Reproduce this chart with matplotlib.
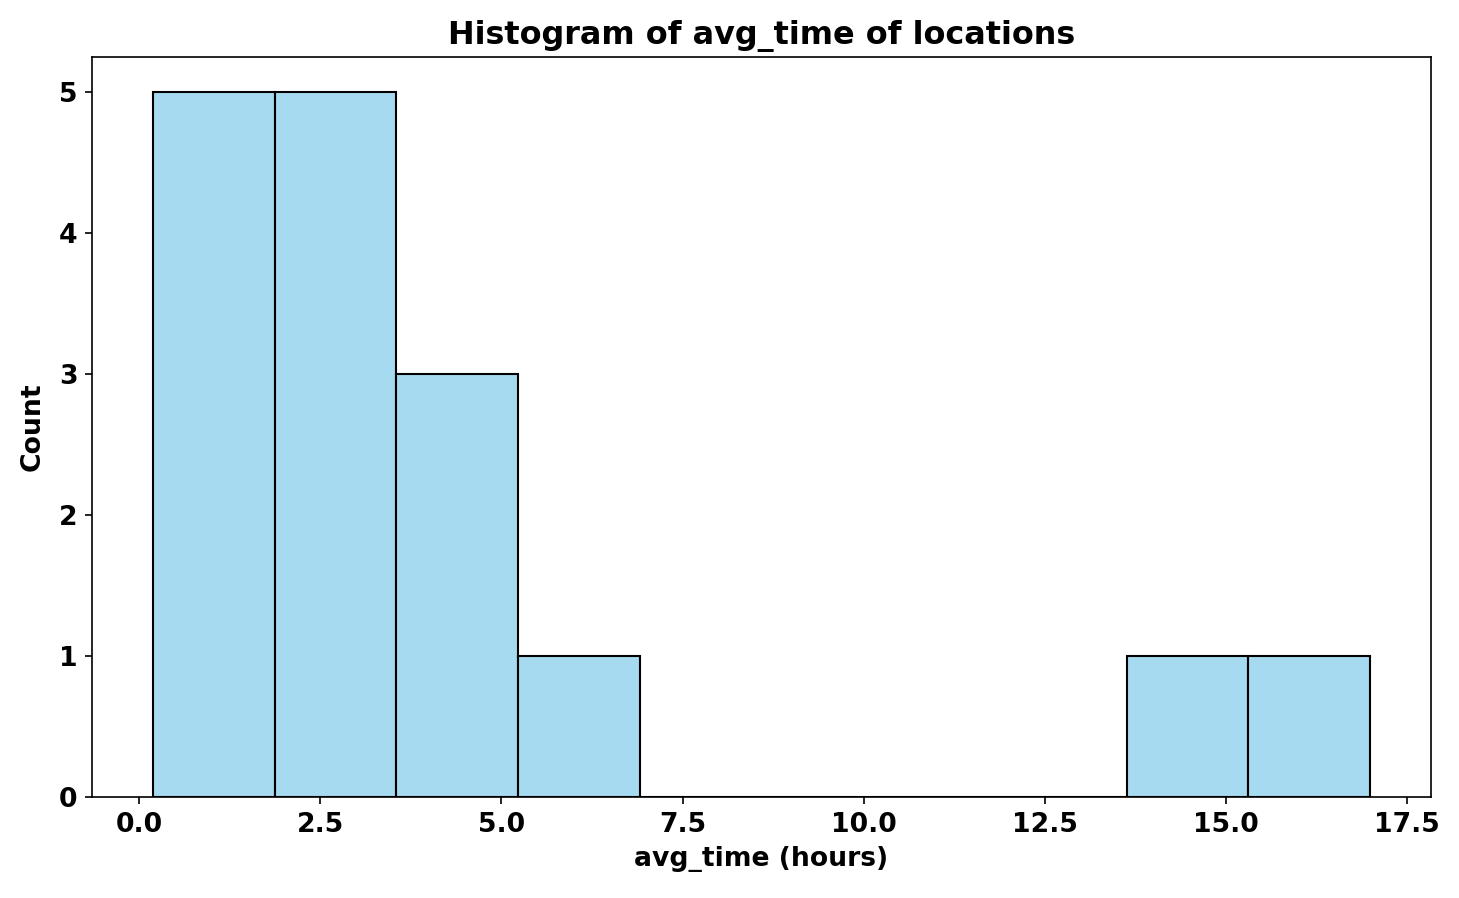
import numpy as np
import matplotlib.pyplot as plt
from matplotlib.colors import to_rgba

# Histograma do avg_time (bordas dos bins e contagens)
bin_edges = [0.19, 1.87, 3.55, 5.23, 6.91, 8.59, 10.27, 11.95, 13.63, 15.31, 16.99]
counts = [5, 5, 3, 1, 0, 0, 0, 0, 1, 1]

plt.rcParams['font.weight'] = 'bold'
plt.rcParams['axes.labelweight'] = 'bold'
plt.rcParams['axes.titleweight'] = 'bold'

W, H = 1459, 898
fig = plt.figure(figsize=(W / 150, H / 150), dpi=150)
ax = fig.add_axes([92 / W, 1 - 797 / H, (1431 - 92) / W, (797 - 57) / H])

edges = np.array(bin_edges)
ax.bar(edges[:-1], counts, width=np.diff(edges), align='edge',
       facecolor=to_rgba('skyblue', 0.75), edgecolor='black', linewidth=1)

ax.set_title("Histogram of avg_time of locations", fontsize=15.3)
ax.set_xlabel("avg_time (hours)", fontsize=12.75)
ax.set_ylabel("Count", fontsize=12.75, labelpad=6.5)
ax.tick_params(labelsize=12.75)

fig.savefig("out.png", dpi=150)
